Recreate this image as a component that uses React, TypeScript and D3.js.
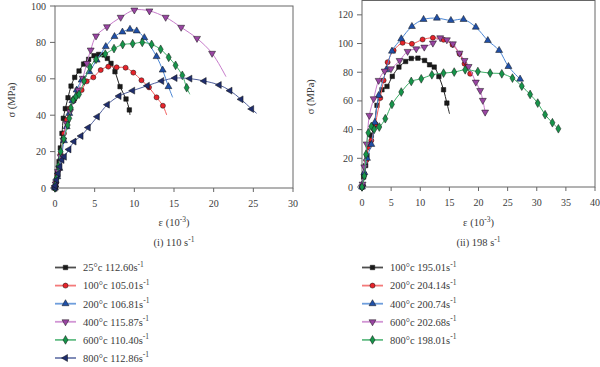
import React from "react";
import * as d3 from "d3";

// ---- panel (i) 110 s^-1 : strain (10^-3) / stress (MPa) ----
const l25x = [0, 0.08, 0.3, 0.5, 0.67, 0.88, 1.05, 1.3, 1.64, 2.02, 2.48, 3.03, 3.61, 4.24, 4.92, 5.5, 6.18, 6.6, 7.06, 7.56, 8.2, 8.95, 9.37, 9.45];
const l25y = [0, 2.2, 8, 14.5, 22, 30, 38.3, 43.6, 49.6, 56, 60.8, 64.3, 68.1, 70.7, 72.7, 73.4, 73.1, 71.2, 68.5, 63.9, 55.7, 48.9, 42.9, 40.1];
const l100x = [0, 0.13, 0.3, 0.46, 0.71, 1.13, 1.47, 1.9, 2.4, 2.86, 3.36, 4.0, 4.83, 5.76, 6.72, 7.77, 8.9, 9.87, 10.9, 11.85, 12.8, 13.6, 14.08];
const l100y = [0, 2.9, 7.1, 11.7, 18.7, 30, 37.4, 43.8, 48.4, 51.5, 53.8, 58.6, 60.8, 64.8, 66.7, 66.3, 66.1, 63.4, 59.2, 55.3, 49.8, 45.2, 40.1];
const l200x = [0, 0.04, 0.29, 0.55, 0.8, 1.13, 1.47, 1.8, 2.2, 2.73, 3.36, 4.33, 5.25, 6.4, 7.5, 8.5, 9.45, 10.3, 11.26, 12.8, 13.57, 14.3, 14.83];
const l200y = [0, 1.6, 6.2, 10.8, 17, 26, 33.7, 41, 48, 53.8, 59.3, 63.9, 70.3, 77.7, 83.2, 85.7, 87.2, 86.3, 82.6, 72.2, 64.8, 55.7, 49.8];
const l400x = [0, 0.08, 0.38, 0.71, 1.05, 1.47, 1.9, 2.4, 2.94, 3.5, 4.0, 4.5, 5.17, 6.55, 8.28, 10.0, 11.9, 13.95, 15.9, 17.9, 19.8, 21.55];
const l400y = [0, 2.2, 9, 17.2, 26.4, 35.5, 42, 48.4, 53.8, 60.3, 68.5, 75.8, 83.5, 88.6, 93.8, 97.8, 97.3, 93.8, 88.3, 82.2, 74, 61.2];
const l600x = [0, 0.04, 0.21, 0.42, 0.71, 1.1, 1.6, 1.8, 2.0, 2.3, 2.65, 3.03, 3.66, 4.41, 5.17, 6.34, 7.44, 8.53, 9.79, 11.0, 12.18, 13.32, 14.33, 15.2, 16.05, 16.6, 17.0];
const l600y = [0, 1.6, 5.3, 12, 20, 27, 34.6, 38.3, 44, 48.4, 50.2, 51.5, 58.8, 66.3, 70.7, 73.6, 76.6, 78.8, 79.3, 80, 78.9, 76.2, 71.8, 67.4, 61.9, 55.1, 51.5];
const l800x = [0, 0.04, 0.2, 0.42, 0.63, 0.88, 1.18, 1.76, 2.4, 3.28, 4.2, 5.34, 6.6, 8.07, 9.79, 11.64, 13.45, 15.13, 17.0, 18.8, 20.7, 22.06, 23.45, 24.79, 25.42];
const l800y = [0, 1.3, 4.4, 8, 11.7, 15.4, 17.2, 21.2, 25.5, 28.6, 33.2, 39.2, 45.8, 50.5, 53.5, 56.2, 58.8, 60.4, 60.1, 58.8, 56.6, 53.5, 48.7, 43.4, 41];

// ---- panel (ii) 198 s^-1 ----
const r100x = [0, 0.1, 0.29, 0.63, 0.86, 1.14, 1.6, 2.11, 2.57, 3.43, 4.29, 5.2, 6.34, 7.49, 8.46, 9.6, 10.74, 11.6, 12.4, 13.2, 14.0, 14.57, 15.03];
const r100y = [0, 1.2, 7, 15, 22, 29, 36, 43, 56.9, 67.8, 70.1, 77.1, 83.6, 87.5, 89.6, 89.8, 88.2, 85.2, 83.6, 77, 67.8, 58.5, 51];
const r200x = [0, 0.1, 0.4, 0.74, 1.14, 1.6, 2.29, 3.14, 3.71, 4.4, 5.43, 6.97, 8.57, 10.4, 12.17, 14.0, 15.54, 16.74, 17.6, 18.57];
const r200y = [0, 1.2, 9.3, 18.6, 27.9, 32.5, 44, 62, 74.3, 87, 95.2, 100.5, 99.8, 102.8, 104, 102.6, 99.1, 92.9, 85.9, 78.9];
const r400x = [0, 0.1, 0.4, 0.86, 1.6, 2.2, 2.86, 4.17, 5.14, 6.74, 8.57, 10.57, 12.86, 15.26, 17.43, 19.54, 21.6, 23.54, 25.14, 27.14];
const r400y = [0, 2, 10, 20, 29.7, 45, 63.8, 81.7, 94.7, 103.3, 111.9, 116.8, 117.7, 116.1, 116.8, 111.4, 102.1, 95.2, 84, 75.2];
const r600x = [0, 0.1, 0.4, 0.8, 1.26, 2.0, 2.86, 3.89, 4.97, 6.46, 7.83, 9.31, 10.69, 12.17, 13.43, 14.57, 15.6, 16.74, 17.6, 18.3, 19.54, 20.29, 20.74, 21.14];
const r600y = [0, 2, 14, 30, 49.9, 61.5, 74.3, 80.8, 82.4, 88.2, 94.5, 96.3, 97.5, 100.3, 104, 102.6, 99.8, 93.3, 88.2, 84, 73.1, 67.3, 60.4, 52.2];
const r800x = [0, 0.4, 0.69, 1.09, 1.6, 2.1, 2.97, 4.0, 5.14, 6.74, 8.46, 10.17, 12.0, 14.0, 15.83, 17.71, 19.89, 22.0, 24.0, 25.83, 27.43, 28.86, 30.17, 31.43, 32.69, 33.71];
const r800y = [0, 7.7, 22.7, 37.8, 42.2, 40.2, 41.8, 47.6, 57.6, 66.2, 73.6, 75.4, 78.2, 79.4, 80.1, 81.7, 80.5, 79.4, 78.9, 75.9, 70.3, 64.5, 58.5, 50.4, 44.8, 40.6];

const leftLabels = ["25°c 112.60s", "100°c 105.01s", "200°c 106.81s", "400°c 115.87s", "600°c 110.40s", "800°c 112.86s"];
const rightLabels = ["100°c 195.01s", "200°c 204.14s", "400°c 200.74s", "600°c 202.68s", "800°c 198.01s"];

const xTicksLeft = [0, 5, 10, 15, 20, 25, 30];
const yTicksLeft = [0, 20, 40, 60, 80, 100];
const xTicksRight = [0, 5, 10, 15, 20, 25, 30, 35, 40];
const yTicksRight = [0, 20, 40, 60, 80, 100, 120];

// marker/line styles
const STY: Record<string, any> = {
  black: { line: "#222", fill: "#1a1a1a", sym: d3.symbolSquare, rot: 0, size: 20 },
  red: { line: "#f25a5a", fill: "#e8232a", sym: d3.symbolCircle, rot: 0, size: 20 },
  blue: { line: "#4b86d4", fill: "#2050a8", sym: d3.symbolTriangle, rot: 0, size: 21 },
  magenta: { line: "#c77ccb", fill: "#9a45a3", sym: d3.symbolTriangle, rot: 180, size: 21 },
  green: { line: "#3fae68", fill: "#16954a", sym: d3.symbolDiamond, rot: 0, size: 22 },
  navy: { line: "#50609c", fill: "#1f2e6e", sym: d3.symbolTriangle, rot: -90, size: 21 },
};

const leftSeries = [
  { xs: l25x, ys: l25y, s: "black", tail: true },
  { xs: l100x, ys: l100y, s: "red", tail: true },
  { xs: l200x, ys: l200y, s: "blue", tail: true },
  { xs: l400x, ys: l400y, s: "magenta", tail: true },
  { xs: l600x, ys: l600y, s: "green", tail: true },
  { xs: l800x, ys: l800y, s: "navy", tail: true },
];
const rightSeries = [
  { xs: r100x, ys: r100y, s: "black", tail: true },
  { xs: r200x, ys: r200y, s: "red", tail: false },
  { xs: r400x, ys: r400y, s: "blue", tail: false },
  { xs: r600x, ys: r600y, s: "magenta", tail: false },
  { xs: r800x, ys: r800y, s: "green", tail: false },
];

const FONT = "Liberation Serif, Times New Roman, Times, serif";
const TXT = "#3a3a3a";

function Marker({ x, y, s }: { x: number; y: number; s: string }) {
  const st = STY[s];
  const d = d3.symbol().type(st.sym).size(st.size)()!;
  return (
    <path d={d} transform={`translate(${x},${y}) rotate(${st.rot})`} fill={st.fill} stroke="#111" strokeWidth={0.5} />
  );
}

function Panel(props: any) {
  const { x0, x1, y0, y1, xMax, yMax, xTicks, yTicks, series, labels, title, yLabX } = props;
  const x = d3.scaleLinear().domain([0, xMax]).range([x0, x1]);
  const y = d3.scaleLinear().domain([0, yMax]).range([y0, y1]);
  const line = d3.line<[number, number]>()
    .x((d) => x(d[0]))
    .y((d) => y(d[1]))
    .curve(d3.curveCatmullRom.alpha(0.5));
  const cx = (x0 + x1) / 2;

  return (
    <g style={{ fontFamily: FONT }} fill={TXT}>
      {/* frame */}
      <rect x={x0} y={y1} width={x1 - x0} height={y0 - y1} fill="none" stroke="#666" strokeWidth={1} />
      {xTicks.map((t: number) => (
        <g key={"x" + t}>
          <line x1={x(t)} x2={x(t)} y1={y0} y2={y0 + 4} stroke="#666" />
          <text x={x(t)} y={y0 + 19} textAnchor="middle" fontSize={10}>{t}</text>
        </g>
      ))}
      {yTicks.map((t: number) => (
        <g key={"y" + t}>
          <line x1={x0 - 5} x2={x0} y1={y(t)} y2={y(t)} stroke="#666" />
          <text x={x0 - 9} y={y(t) + 3.5} textAnchor="end" fontSize={10}>{t}</text>
        </g>
      ))}
      <text transform={`translate(${yLabX},${(y0 + y1) / 2 + 3}) rotate(-90)`} textAnchor="middle" fontSize={10.5}>σ (MPa)</text>
      <text x={cx} y={226} textAnchor="middle" fontSize={10.5}>
        ε (10<tspan dy={-4} fontSize={7.5}>-3</tspan><tspan dy={4}>)</tspan>
      </text>
      <text x={cx} y={246} textAnchor="middle" fontSize={10.5}>
        {title} s<tspan dy={-4} fontSize={7.5}>-1</tspan>
      </text>

      {series.map((se: any, i: number) => {
        const pts: [number, number][] = se.xs.map((v: number, j: number) => [v, se.ys[j]]);
        const marks = se.tail ? pts.slice(0, -1) : pts;
        return (
          <g key={i}>
            <path d={line(pts)!} fill="none" stroke={STY[se.s].line} strokeWidth={1} />
            {marks.map((p, j) => <Marker key={j} x={x(p[0])} y={y(p[1])} s={se.s} />)}
          </g>
        );
      })}

      {labels.map((lb: string, i: number) => {
        const ly = 267.5 + i * 18.1;
        const lx = x0;
        return (
          <g key={lb}>
            <line x1={lx} x2={lx + 21} y1={ly} y2={ly} stroke={STY[series[i].s].line} strokeWidth={1.8} opacity={0.8} />
            <Marker x={lx + 10.5} y={ly} s={series[i].s} />
            <text x={lx + 28} y={ly + 3.8} fontSize={10.5}>
              {lb}<tspan dy={-4.5} fontSize={7.5}>-1</tspan>
            </text>
          </g>
        );
      })}
    </g>
  );
}

export default function App() {
  return (
    <svg width={600} height={367} style={{ position: "absolute", left: 0, top: 0, background: "#fff" }}>
      <Panel x0={55} x1={293} y0={188} y1={6} xMax={30} yMax={100}
        xTicks={xTicksLeft} yTicks={yTicksLeft} series={leftSeries} labels={leftLabels}
        title="(i) 110" yLabX={15} />
      <Panel x0={362} x1={595} y0={187} y1={0.5} xMax={40} yMax={130}
        xTicks={xTicksRight} yTicks={yTicksRight} series={rightSeries} labels={rightLabels}
        title="(ii) 198" yLabX={314} />
    </svg>
  );
}
